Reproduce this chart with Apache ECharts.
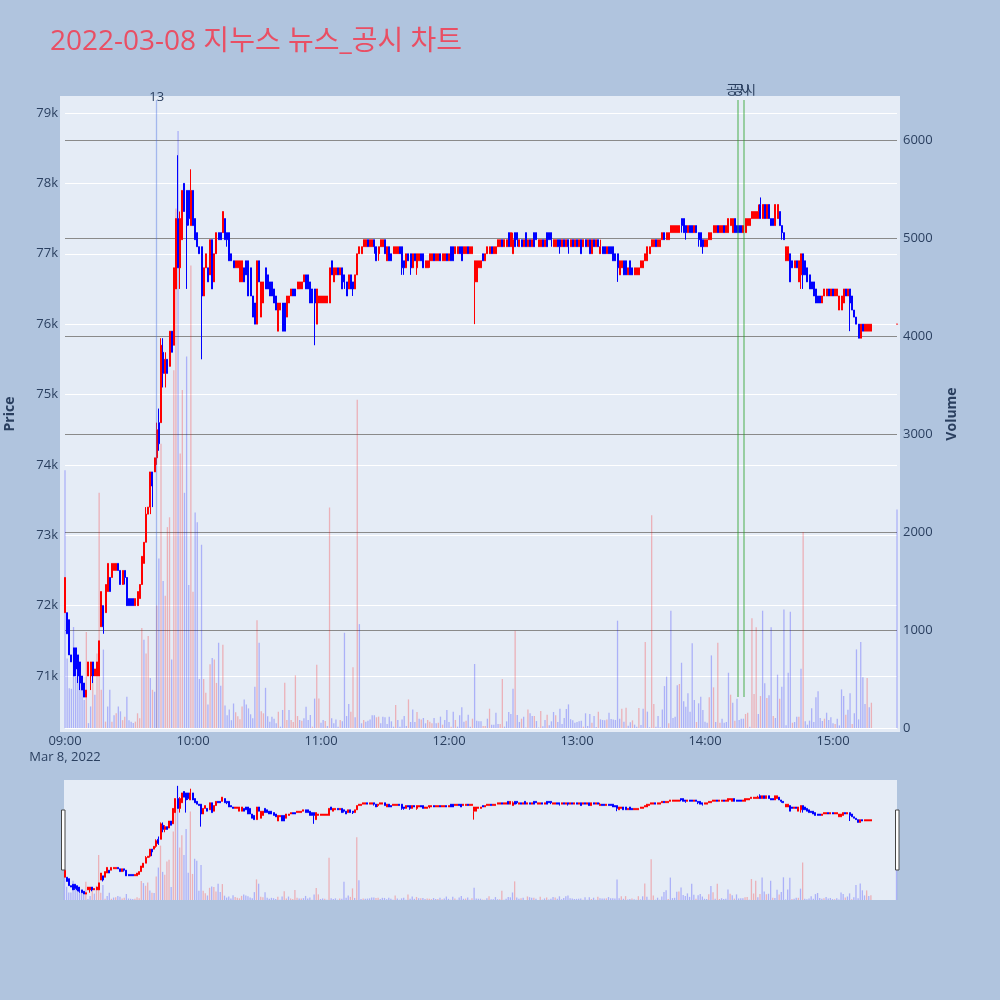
<!DOCTYPE html>
<html><head><meta charset="utf-8">
<script src="https://cdn.jsdelivr.net/npm/echarts@6/dist/echarts.min.js"></script>
<style>html,body{margin:0;padding:0;background:#B0C4DE;}#c{width:1000px;height:1000px;}</style>
</head><body><div id="c"></div>
<script>
const chartTitle = '2022-03-08 지누스 뉴스_공시 차트';
const dateLabel = 'Mar 8, 2022';
const xTickLabels = ['09:00','10:00','11:00','12:00','13:00','14:00','15:00'];
const priceUnit = 100; // prices below are in units of 100 won
// one candle per minute starting 09:00
const opens = [
719,719,718,713,714,714,713,712,710,709, 707,710,710,712,710,710,710,717,720,719,
722,724,724,725,725,726,725,723,725,724, 721,721,721,720,720,721,723,726,729,733,
734,739,739,741,746,746,756,753,755,754, 759,757,765,775,768,772,780,779,779,774,
779,775,773,771,771,764,768,768,767,772, 766,770,773,773,773,775,773,773,770,769,
768,768,766,766,768,769,769,768,764,763, 760,769,761,763,768,767,766,766,765,764,
759,762,763,763,761,763,764,765,765,765, 765,765,766,767,767,766,765,765,760,763,
763,763,763,763,763,769,766,767,768,767, 768,767,766,765,767,766,765,767,770,770,
771,771,772,771,771,772,771,770,771,771, 772,769,771,770,770,770,770,771,771,769,
768,770,770,768,770,768,769,770,770,768, 768,769,769,770,769,769,770,769,769,770,
769,771,771,770,770,771,771,770,770,771, 770,770,766,766,768,768,770,769,770,770,
771,770,770,771,771,772,771,771,773,771, 770,773,773,771,772,771,773,771,772,771,
773,773,771,771,772,771,773,773,773,771, 771,772,772,771,772,771,772,771,772,771,
772,771,772,771,772,771,772,770,772,771, 772,770,771,771,770,771,771,771,770,770,
767,768,769,769,767,769,768,767,767,767, 768,768,769,769,770,771,771,772,771,771,
772,773,772,772,773,773,773,773,773,775, 775,774,773,774,774,773,774,773,773,772,
771,771,772,772,773,773,774,773,773,774, 773,773,774,773,775,774,774,774,773,773,
774,774,775,775,775,775,777,775,777,775, 777,775,775,774,775,776,774,773,769,769,
770,769,768,769,766,767,770,769,768,767, 766,766,765,764,764,763,764,764,765,764,
765,764,764,762,762,763,765,764,765,764, 762,761,760,758,760,759,759,759,759];
const closes = [
724,716,713,712,710,711,710,709,708,707, 708,712,712,710,711,712,715,722,717,723,
726,722,726,726,726,725,723,725,724,720, 720,720,720,721,722,723,727,729,733,734,
739,737,741,745,743,757,753,755,753,759, 756,768,775,768,775,779,776,774,775,779,
774,772,771,770,764,768,770,766,772,765, 770,773,772,772,776,772,772,769,769,768,
769,769,769,769,766,767,764,764,761,760, 769,766,766,766,765,765,764,764,763,762,
763,763,759,759,764,764,765,764,764,766, 766,766,767,765,765,763,763,763,765,764,
764,764,764,764,768,767,768,768,767,768, 765,766,764,767,765,765,767,770,771,771,
772,772,771,772,772,771,769,771,772,772, 770,771,769,769,771,771,771,770,768,768,
770,769,768,770,769,770,770,769,768,769, 769,770,770,769,770,770,769,770,770,769,
770,769,769,771,771,770,769,771,771,770, 771,771,769,769,769,769,769,770,771,771,
770,771,771,772,772,771,772,772,771,773, 772,771,772,772,771,772,771,772,771,772,
771,772,772,772,771,772,771,772,772,772, 772,771,771,772,771,772,771,772,771,772,
771,772,770,772,771,772,770,772,771,772, 771,771,770,770,771,770,770,769,769,768,
769,769,767,767,768,767,767,768,768,768, 769,769,770,771,771,772,772,771,772,772,
773,772,773,773,774,774,774,774,774,774, 773,773,774,773,773,774,773,772,771,771,
772,772,773,773,774,774,773,774,774,773, 774,775,775,775,773,773,773,773,774,775,
775,775,776,776,776,776,775,777,775,777, 775,774,774,777,777,774,773,772,771,771,
766,768,769,768,769,770,767,767,766,765, 765,764,763,763,763,764,765,765,764,765,
764,765,765,764,764,765,764,765,763,762, 761,760,758,760,759,760,760,760,760];
const lows = [
719,716,713,712,710,710,709,708,708,707, 707,710,708,709,710,710,710,717,716,719,
722,722,724,725,725,725,723,723,723,720, 720,720,720,720,720,721,723,726,729,733,
733,734,739,740,742,746,751,751,753,754, 756,757,765,768,765,772,776,765,774,774,
774,772,771,770,755,764,768,766,767,765, 766,770,772,772,773,772,771,769,769,768,
768,768,766,766,766,767,764,764,761,760, 760,766,761,763,765,765,764,764,763,762,
759,762,759,759,761,763,764,764,764,765, 765,765,766,765,765,763,763,757,760,763,
763,763,763,763,763,767,766,767,767,767, 765,765,764,765,765,764,765,767,770,770,
771,771,771,771,771,770,769,769,771,771, 770,769,769,769,770,770,770,770,767,767,
768,769,767,768,769,767,769,769,768,768, 768,768,769,769,769,769,769,769,769,769,
769,769,769,770,770,770,769,770,770,770, 770,770,760,766,768,768,769,769,770,770,
770,770,770,771,771,771,771,771,771,771, 770,771,771,771,771,771,771,771,771,771,
771,772,771,771,771,771,771,772,771,771, 771,771,770,771,771,771,770,771,771,771,
771,771,770,771,771,771,770,770,771,771, 771,770,770,770,770,770,770,769,769,766,
767,768,767,767,767,767,767,767,767,767, 768,768,769,769,770,771,771,771,771,771,
772,772,772,772,773,773,773,773,773,773, 773,772,773,773,773,773,773,771,771,770,
771,771,772,772,773,773,773,773,773,773, 773,773,774,773,773,773,773,773,773,773,
774,774,775,775,775,775,775,775,775,775, 775,774,774,774,775,774,772,772,769,769,
766,768,768,768,766,765,765,767,766,765, 765,764,763,763,763,763,764,764,764,764,
764,764,764,762,762,763,764,764,759,762, 761,760,758,758,759,759,759,759,759];
const highs = [
724,719,718,713,714,714,713,712,710,709, 708,712,712,712,711,712,715,722,720,723,
726,724,726,726,726,726,725,725,725,724, 721,721,721,721,722,723,727,729,734,734,
739,739,741,746,748,758,758,756,755,759, 759,768,775,784,776,779,780,779,779,782,
779,775,773,771,771,768,770,768,772,772, 770,773,773,773,776,775,773,773,770,769,
769,769,769,769,768,769,769,768,764,763, 769,769,766,766,768,767,766,766,765,764,
763,763,763,763,764,764,765,765,765,766, 766,766,767,767,767,766,765,765,765,764,
764,764,764,764,768,769,768,768,768,768, 768,767,766,767,767,766,767,770,771,771,
772,772,772,772,772,772,771,771,772,772, 772,771,771,770,771,771,771,771,771,769,
770,770,770,770,770,770,770,770,770,769, 769,770,770,770,770,770,770,770,770,770,
770,771,771,771,771,771,771,771,771,771, 771,771,769,769,769,769,770,770,771,771,
771,771,771,772,772,772,772,772,773,773, 773,773,773,772,772,772,773,772,772,772,
773,773,772,772,772,772,773,773,773,772, 772,772,772,772,772,772,772,772,772,772,
772,772,772,772,772,772,772,772,772,772, 772,772,771,771,771,771,771,771,770,770,
769,769,769,769,768,769,768,768,768,768, 769,769,770,771,771,772,772,772,772,772,
773,773,773,773,774,774,774,774,774,775, 775,774,774,774,774,774,774,773,773,772,
772,772,773,773,774,774,774,774,774,774, 774,775,775,775,775,774,774,774,774,775,
775,775,776,776,776,777,778,777,777,777, 777,775,775,777,777,776,774,773,771,771,
770,769,769,769,769,770,770,769,768,767, 766,766,765,764,764,764,765,765,765,765,
765,765,765,764,764,765,765,765,765,764, 762,761,760,760,760,760,760,760,760];
const volumes = [
2630,710,405,400,1030,810,730,540,405,285, 980,50,220,520,340,760,2400,390,800,65,
220,390,65,130,150,220,170,80,115,320, 80,65,50,65,150,100,1020,900,760,940,
510,390,370,1250,1730,2900,1500,1350,2050,2150, 700,3650,5300,6092,2800,3450,2400,3790,1460,4720,
1390,2200,2100,500,1870,500,360,240,650,714, 700,460,870,430,850,230,130,190,80,250,
160,120,90,220,290,240,200,140,100,420, 1100,870,170,150,410,120,65,115,95,48,
167,14,184,462,82,184,82,60,537,122, 82,75,99,218,82,133,14,300,646,300,
54,82,71,20,2250,99,48,88,14,82, 68,972,122,245,167,619,109,3350,1060,48,
82,65,75,88,129,129,109,116,48,116, 109,41,116,68,14,235,82,14,88,122,
20,292,61,190,61,163,95,88,102,48, 82,65,48,102,48,54,116,34,82,184,
61,14,167,82,14,129,211,65,75,136, 14,95,653,75,68,68,20,20,95,197,
34,34,156,41,41,500,14,68,163,143, 401,993,133,61,95,116,5,190,150,122,
122,71,5,173,17,82,136,27,68,163, 129,61,197,41,102,194,241,90,78,54,
61,68,75,14,150,20,143,54,122,10, 167,88,82,78,88,156,92,88,82,1095,
95,197,65,207,24,58,78,34,14,204, 31,197,877,167,7,2170,245,14,122,7,
190,428,524,48,1197,102,116,435,449,666, 272,218,354,167,864,286,61,252,320,184,
65,54,313,741,415,61,870,54,95,54, 61,564,340,258,75,299,82,95,95,143,
156,14,1119,347,1027,143,326,1197,456,306, 333,1027,122,102,544,299,422,1210,27,564,
1187,54,61,116,116,605,2000,68,34,75, 201,61,313,374,102,71,95,156,82,109,
48,41,95,27,394,326,136,187,354,41, 150,802,88,877,517,245,510,211,258];
// 1 = volume bar drawn as rising (red), 0 = falling (blue)
const volumeUp = [
0,0,0,0,0,0,0,0,0,0, 1,0,0,1,0,1,1,1,0,1, 0,0,1,0,1,0,0,1,1,0, 0,0,0,1,1,1,1,0,1,1,
0,1,0,1,0,1,0,1,1,1, 0,1,1,0,1,1,0,0,0,1, 1,0,0,0,0,1,1,0,1,0, 1,1,0,0,1,0,0,0,0,0,
1,1,1,1,0,0,0,0,0,0, 1,0,1,1,0,0,0,0,0,0, 1,0,0,1,1,0,1,1,1,1, 0,1,0,0,0,0,1,0,1,1,
0,0,1,0,1,0,0,0,0,1, 0,0,0,0,1,1,0,1,0,0, 1,0,0,0,0,0,1,1,0,0, 0,0,0,0,0,1,0,0,0,0,
0,1,0,0,0,1,0,1,0,0, 1,1,1,0,0,1,0,1,0,0, 0,1,0,1,0,0,0,0,1,0, 0,1,0,0,0,0,1,1,0,1,
0,0,0,0,1,1,0,0,0,0, 0,1,0,0,1,0,0,1,0,0, 1,0,0,1,0,0,1,0,0,0, 1,0,0,0,0,0,0,0,0,0,
0,0,0,1,0,0,0,1,0,0, 1,0,0,0,1,0,0,0,0,0, 0,1,0,1,0,0,1,0,0,1, 0,0,1,0,0,1,1,0,0,0,
0,0,0,1,0,0,0,0,1,0, 0,0,0,0,0,0,1,0,0,0, 0,0,1,0,1,0,1,1,0,0, 0,0,1,0,1,0,0,0,0,1,
1,0,1,1,1,0,1,0,0,1, 0,0,1,0,0,1,0,0,0,0, 0,1,0,0,1,0,1,0,0,0, 0,0,0,0,0,0,1,0,0,0,
0,1,0,0,0,0,1,0,0,1, 0,0,0,0,0,0,1,0,1];
const closingTime = '15:30';
const closingPrice = 760;
const closingVolume = 2230;
const closingVolumeUp = 0;
const newsTimes = ['09:43'];
const newsLabels = ['13'];
const disclosureTimes = ['14:15:30', '14:18:20'];
const disclosureLabels = ['공시', '공시'];

function toMin(t) { const p = t.split(':').map(Number); return (p[0] - 9) * 60 + p[1] + (p[2] || 0) / 60; }

const UP = '#FF0000', DN = '#0000FF';
const UPV = 'rgba(255,0,0,0.25)', DNV = 'rgba(0,0,255,0.25)';
const TXT = '#2a3f5f';
const FONT = "'Open Sans', 'Noto Sans CJK KR', sans-serif";

const candleData = opens.map((o, i) => [i, o * priceUnit, closes[i] * priceUnit, lows[i] * priceUnit, highs[i] * priceUnit]);
const closeX = toMin(closingTime);
candleData.push([closeX, closingPrice * priceUnit, closingPrice * priceUnit, closingPrice * priceUnit, closingPrice * priceUnit]);
const volData = volumes.map((v, i) => ({ value: [i, v], itemStyle: { color: volumeUp[i] ? UPV : DNV } }));
volData.push({ value: [closeX, closingVolume], itemStyle: { color: closingVolumeUp ? UPV : DNV } });

const candleStyle = { color: UP, color0: DN, borderColor: UP, borderColor0: DN, borderWidth: 1 };
const hiddenX = (g) => ({ type: 'value', gridIndex: g, min: 0, max: 390, show: false });

const chart = echarts.init(document.getElementById('c'));
chart.setOption({
  animation: false,
  backgroundColor: '#B0C4DE',
  textStyle: { fontFamily: FONT },
  title: { text: chartTitle, left: 50, top: 28, padding: 0,
    textStyle: { color: '#E94F64', fontSize: 28, fontWeight: 'normal', fontFamily: FONT } },
  grid: [
    { left: 60, top: 96, width: 840, height: 636, show: true, backgroundColor: '#E5ECF6', borderWidth: 0, z: -1 },
    { left: 64, top: 780, width: 833, height: 120, show: true, backgroundColor: '#E5ECF6', borderWidth: 0, z: -1 },
    { left: 65, top: 113, width: 832, height: 563 },
    { left: 65, top: 140, width: 832, height: 588 },
    { left: 65, top: 100, width: 832, height: 628 },
    { left: 65, top: 100, width: 832, height: 597 },
    { left: 64.5, top: 780, width: 832, height: 120 }
  ],
  xAxis: [
    hiddenX(2),
    { type: 'value', gridIndex: 3, min: 0, max: 390, interval: 60,
      axisLine: { show: false }, axisTick: { show: false }, splitLine: { show: false },
      axisLabel: { color: TXT, fontSize: 13, margin: 5, lineHeight: 16, fontFamily: FONT,
        formatter: v => (v % 60 === 0 && v <= 360) ? (v === 0 ? xTickLabels[0] + '\n' + dateLabel : xTickLabels[v / 60]) : '' } },
    hiddenX(4), hiddenX(5), hiddenX(6)
  ],
  yAxis: [
    { type: 'value', gridIndex: 2, min: 71000, max: 79000, interval: 1000, position: 'left',
      axisLine: { show: false }, axisTick: { show: false },
      axisLabel: { color: TXT, fontSize: 13, margin: 7, formatter: v => (v / 1000) + 'k' },
      splitLine: { lineStyle: { color: '#FFFFFF', width: 1 } }, z: 1 },
    { type: 'value', gridIndex: 3, min: 0, max: 6000, interval: 1000, position: 'right',
      axisLine: { show: false }, axisTick: { show: false },
      axisLabel: { color: TXT, fontSize: 13, margin: 6, formatter: v => String(v) },
      splitLine: { lineStyle: { color: ['#FFFFFF', '#8a8a8a', '#8a8a8a', '#8a8a8a', '#8a8a8a', '#8a8a8a', '#8a8a8a'], width: 1.2 } }, z: 1 },
    { type: 'value', gridIndex: 4, min: 0, max: 1, show: false },
    { type: 'value', gridIndex: 5, min: 0, max: 1, show: false },
    { type: 'value', gridIndex: 6, min: 70280, max: 78820, show: false },
    { type: 'value', gridIndex: 6, min: 0, max: 6400, show: false }
  ],
  series: [
    { type: 'bar', name: 'Volume', xAxisIndex: 1, yAxisIndex: 1, data: volData, barWidth: 1.3, clip: false, z: 2 },
    { type: 'candlestick', name: 'Price', xAxisIndex: 0, yAxisIndex: 0, data: candleData,
      encode: { x: 0, y: [1, 2, 3, 4] }, barWidth: 1.5, clip: false, itemStyle: candleStyle, z: 3 },
    { type: 'line', xAxisIndex: 2, yAxisIndex: 2, data: [], silent: true,
      markLine: { symbol: ['none', 'none'], silent: true, animation: false,
        lineStyle: { color: 'rgba(65,105,225,0.4)', width: 1.3, type: 'solid' },
        label: { show: true, position: 'end', distance: -4, color: TXT, fontSize: 13, fontFamily: FONT },
        data: newsTimes.map((t, k) => ({ xAxis: toMin(t), label: { formatter: newsLabels[k] } })) } },
    { type: 'line', xAxisIndex: 3, yAxisIndex: 3, data: [], silent: true,
      markLine: { symbol: ['none', 'none'], silent: true, animation: false,
        lineStyle: { color: 'rgba(40,160,40,0.55)', width: 1.5, type: 'solid' },
        label: { show: true, position: 'end', distance: 3, color: TXT, fontSize: 13, fontFamily: FONT },
        data: disclosureTimes.map((t, k) => ({ xAxis: toMin(t), label: { formatter: disclosureLabels[k] } })) } },
    { type: 'bar', xAxisIndex: 4, yAxisIndex: 5, data: volData, barWidth: 1.3, z: 2 },
    { type: 'candlestick', xAxisIndex: 4, yAxisIndex: 4, data: candleData,
      encode: { x: 0, y: [1, 2, 3, 4] }, barWidth: 1.5, itemStyle: candleStyle, z: 3 }
  ],
  graphic: [
    { type: 'text', x: 10, y: 414, rotation: Math.PI / 2, z: 10,
      style: { text: 'Price', fill: TXT, font: 'bold 14px ' + FONT, align: 'center', verticalAlign: 'middle' } },
    { type: 'text', x: 952, y: 414, rotation: Math.PI / 2, z: 10,
      style: { text: 'Volume', fill: TXT, font: 'bold 14px ' + FONT, align: 'center', verticalAlign: 'middle' } },
    { type: 'rect', z: 10, shape: { x: 61.5, y: 810, width: 3.5, height: 60 }, style: { fill: '#FFFFFF', stroke: '#444444', lineWidth: 1 } },
    { type: 'rect', z: 10, shape: { x: 895.5, y: 810, width: 3.5, height: 60 }, style: { fill: '#FFFFFF', stroke: '#444444', lineWidth: 1 } }
  ]
});
</script></body></html>
